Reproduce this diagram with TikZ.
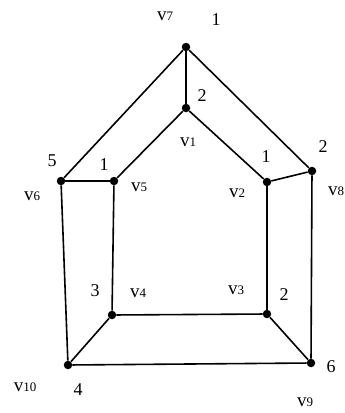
\documentclass[tikz,border=0pt]{standalone}
\usepackage{fontspec}
\setmainfont{Liberation Serif}
\usetikzlibrary{positioning}
\tikzset{
    vertex/.style={circle, fill=black, inner sep=0pt, minimum size=8.5pt},
    num/.style={inner sep=0pt, font=\fontsize{18}{18}\selectfont},
    vname/.style={inner sep=0pt},
    edge/.style={line width=1.6pt}
}
\newcommand{\vlab}[1]{{\fontsize{19}{19}\selectfont v}{\fontsize{13}{13}\selectfont #1}}

\begin{document}
\begin{tikzpicture}[x=1pt, y=-1pt]
    \useasboundingbox (0,0) rectangle (345,413);

    % vertices
    \node[vertex] (v7) at (186,47) {};
    \node[vertex] (v1) at (186,108) {};
    \node[vertex] (v6) at (61,181) {};
    \node[vertex] (v5) at (114,181) {};
    \node[vertex] (v2) at (267,182) {};
    \node[vertex] (v8) at (312,171) {};
    \node[vertex] (v4) at (112,315) {};
    \node[vertex] (v3) at (267,314) {};
    \node[vertex] (v10) at (68,365) {};
    \node[vertex] (v9) at (311,363) {};

    % edges
    \draw[edge] (v7) -- (v1);
    \draw[edge] (v7) -- (v6);
    \draw[edge] (v7) -- (v8);
    \draw[edge] (v1) -- (v5);
    \draw[edge] (v1) -- (v2);
    \draw[edge] (v6) -- (v5);
    \draw[edge] (v2) -- (v8);
    \draw[edge] (v6) -- (v10);
    \draw[edge] (v5) -- (v4);
    \draw[edge] (v2) -- (v3);
    \draw[edge] (v8) -- (v9);
    \draw[edge] (v4) -- (v3);
    \draw[edge] (v4) -- (v10);
    \draw[edge] (v3) -- (v9);
    \draw[edge] (v10) -- (v9);

    % vertex names
    \node[vname] (n7) at (165,16) {\vlab{7}};
    \node[vname] (n1) at (188,142) {\vlab{1}};
    \node[vname] (n5) at (139,187) {\vlab{5}};
    \node[vname] (n2) at (237,193) {\vlab{2}};
    \node[vname] (n8) at (336,191) {\vlab{8}};
    \node[vname] (n6) at (32,196) {\vlab{6}};
    \node[vname] (n4) at (138,293) {\vlab{4}};
    \node[vname] (n3) at (236,290) {\vlab{3}};
    \node[vname] (n10) at (25,387) {\vlab{10}};
    \node[vname] (n9) at (305,402) {\vlab{9}};

    % labels
    \node[num] (c7) at (216,20) {1};
    \node[num] (c1) at (202,96) {2};
    \node[num] (c6) at (52,161) {5};
    \node[num] (c5) at (104,165) {1};
    \node[num] (c2) at (266,157) {1};
    \node[num] (c8) at (323,147) {2};
    \node[num] (c4) at (95,291) {3};
    \node[num] (c3) at (284,295) {2};
    \node[num] (c9) at (331,367) {6};
    \node[num] (c10) at (78,390) {4};

\end{tikzpicture}
\end{document}
